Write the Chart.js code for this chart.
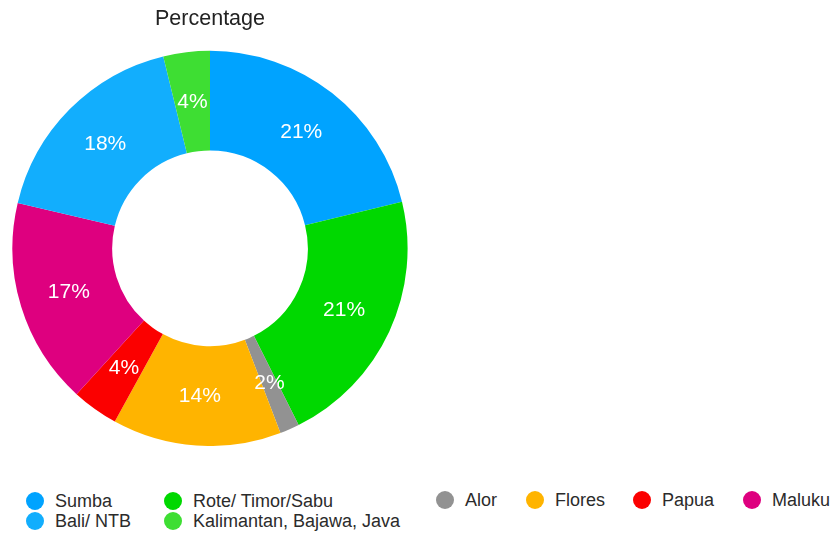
<!DOCTYPE html>
<html>
<head>
<meta charset="utf-8">
<script src="https://cdn.jsdelivr.net/npm/chart.js@4/dist/chart.umd.min.js"></script>
<style>
  html, body { margin: 0; padding: 0; background: #fff; }
  body { width: 832px; height: 535px; position: relative; overflow: hidden; font-family: "Liberation Sans", Arial, sans-serif; }
  #chart-wrap { position: absolute; left: 12px; top: 0; width: 396px; height: 446px; }
  .legend-item { position: absolute; height: 20px; line-height: 20px; font-size: 18px; color: #2b2b2b; white-space: nowrap; }
  .legend-item .dot { position: absolute; left: -9px; top: 1px; width: 18px; height: 18px; border-radius: 50%; }
  .legend-item span.txt { position: absolute; left: 20px; top: 0; }
</style>
</head>
<body>
<div id="chart-wrap"><canvas id="pieChart"></canvas></div>
<div id="legend"></div>
<script>
// slice order, clockwise from the top
const regions = ["Sumba", "Rote/ Timor/Sabu", "Alor", "Flores", "Papua", "Maluku", "Bali/ NTB", "Kalimantan, Bajawa, Java"];
const percentages = [21.2, 21.4, 1.6, 13.8, 3.8, 16.9, 17.5, 3.8];
const sliceColors = ["#00a3ff", "#00d800", "#929292", "#ffb400", "#fb0000", "#de007f", "#12aefd", "#3ede33"];

// legend is laid out in columns, top row then bottom row
const legendOrder = ["Sumba", "Bali/ NTB", "Rote/ Timor/Sabu", "Kalimantan, Bajawa, Java", "Alor", "Flores", "Papua", "Maluku"];
const legendSpots = [[35, 491], [35, 511], [173, 491], [173, 511], [445, 490], [535, 490], [642, 490], [752, 490]];

const legendBox = document.getElementById("legend");
legendOrder.forEach((name, i) => {
    const idx = regions.indexOf(name);
    const item = document.createElement("div");
    item.className = "legend-item";
    item.style.left = legendSpots[i][0] + "px";
    item.style.top = legendSpots[i][1] + "px";
    item.innerHTML = `<span class="dot" style="background:${sliceColors[idx]}"></span><span class="txt">${name}</span>`;
    legendBox.appendChild(item);
});

const sliceLabels = {
    id: "sliceLabels",
    afterDatasetsDraw(chart) {
        const ctx = chart.ctx;
        const meta = chart.getDatasetMeta(0);
        ctx.save();
        ctx.fillStyle = "#ffffff";
        ctx.font = '21px "Liberation Sans", Arial, sans-serif';
        ctx.textAlign = "center";
        ctx.textBaseline = "middle";
        meta.data.forEach((arc, i) => {
            const p = arc.getCenterPoint();
            ctx.fillText(Math.round(percentages[i]) + "%", p.x, p.y);
        });
        ctx.restore();
    }
};

const pieChartCtx = document.getElementById("pieChart").getContext("2d");
const pieChart = new Chart(pieChartCtx, {
    type: "doughnut",
    data: {
        labels: regions,
        datasets: [{
            label: "Percentage",
            data: percentages,
            backgroundColor: sliceColors,
            borderWidth: 0
        }]
    },
    options: {
        responsive: true,
        maintainAspectRatio: false,
        animation: false,
        cutout: "49.5%",
        layout: { padding: 0 },
        plugins: {
            legend: { display: false },
            tooltip: { enabled: false },
            title: {
                display: true,
                text: "Percentage",
                color: "#222",
                font: { family: '"Liberation Sans", Arial, sans-serif', size: 21.5, weight: "normal" },
                padding: { top: 6, bottom: 19 }
            }
        }
    },
    plugins: [sliceLabels]
});
</script>
</body>
</html>
